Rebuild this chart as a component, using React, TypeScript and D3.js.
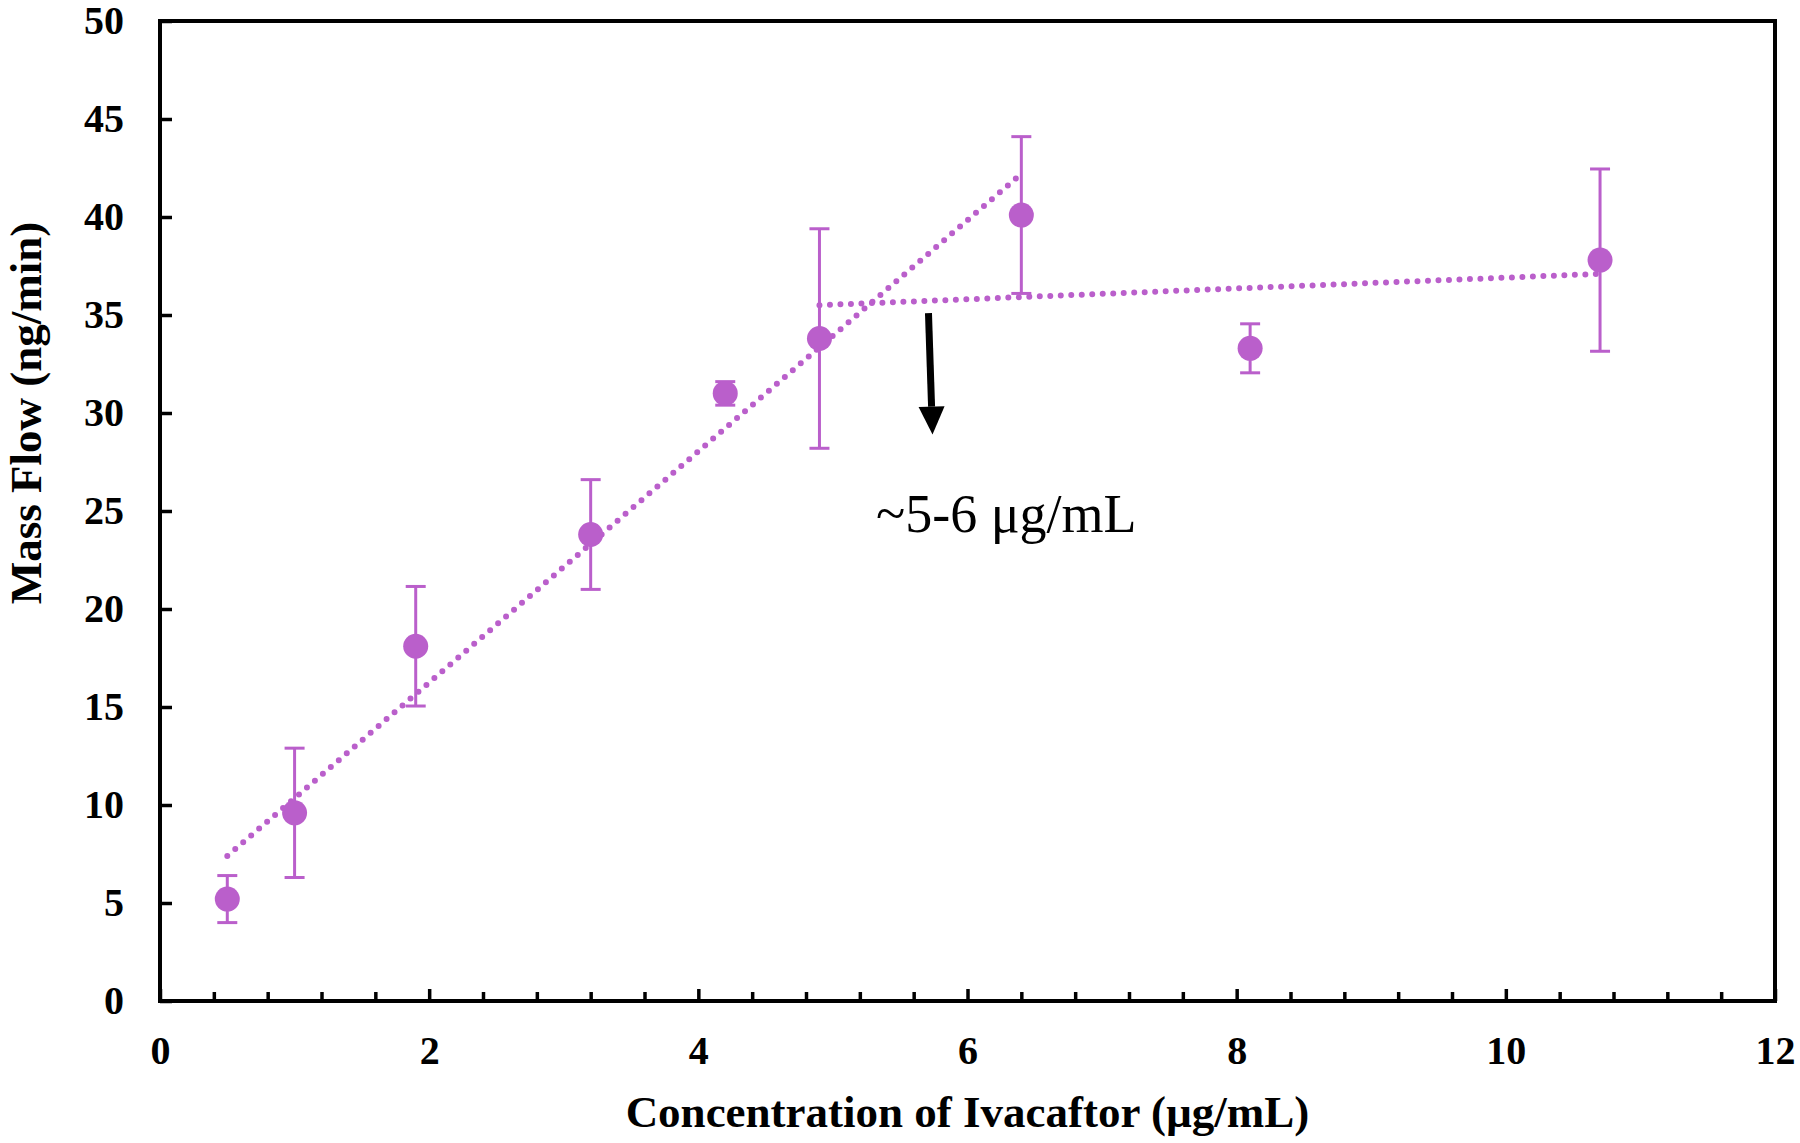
import React, { useEffect, useRef } from 'react';
import * as d3 from 'd3';

// Values
const concentration = [0.5, 1.0, 1.9, 3.2, 4.2, 4.9, 6.4, 8.1, 10.7];
const massFlow = [5.2, 9.6, 18.1, 23.8, 31.0, 33.8, 40.1, 33.3, 37.8];
const errors = [1.2, 3.3, 3.05, 2.8, 0.6, 5.6, 4.0, 1.25, 4.65];

// trend line end points (x, y)
const trendRising = [[0.5, 7.4], [6.4, 42.2]];
const trendFlat = [[4.9, 35.5], [10.7, 37.1]];

const xTicks = [0, 2, 4, 6, 8, 10, 12];
const yTicks = [0, 5, 10, 15, 20, 25, 30, 35, 40, 45, 50];

const annotation = { x: 5.32, y: 24.9, text: '~5-6 μg/mL' };
const arrow = { x1: 5.71, y1: 35.1, x2: 5.74, y2: 28.9 };

const PURPLE = '#BA5FCB';
const FONT = '"Liberation Serif", "Times New Roman", serif';

function App() {
  const ref = useRef<SVGSVGElement>(null);

  useEffect(() => {
    const svg = d3.select(ref.current);
    svg.selectAll('*').remove();

    const width = 1800;
    const height = 1143;
    const margin = { top: 21, right: 25, bottom: 142, left: 160 };

    const x = d3.scaleLinear().domain([0, 12]).range([margin.left, width - margin.right]);
    const y = d3.scaleLinear().domain([0, 50]).range([height - margin.bottom, margin.top]);

    // minor x ticks every 0.4
    const minorX = d3.range(1, 30).filter((i) => i % 5 !== 0).map((i) => i * 0.4);

    const gx = svg
      .append('g')
      .attr('transform', `translate(0,${y(0)})`)
      .call(d3.axisBottom(x).tickValues(xTicks).tickSizeInner(-12).tickSizeOuter(0).tickPadding(35));
    gx.select('.domain').remove();
    gx.selectAll('.tick line').attr('stroke', '#000').attr('stroke-width', 3.5);
    gx.selectAll('text')
      .attr('font-family', FONT)
      .attr('font-weight', 'bold')
      .attr('font-size', 40)
      .attr('fill', '#000');

    const gxm = svg
      .append('g')
      .attr('transform', `translate(0,${y(0)})`)
      .call(d3.axisBottom(x).tickValues(minorX).tickSizeInner(-9).tickSizeOuter(0).tickFormat(() => ''));
    gxm.select('.domain').remove();
    gxm.selectAll('.tick line').attr('stroke', '#000').attr('stroke-width', 3.5);

    const gy = svg
      .append('g')
      .attr('transform', `translate(${x(0)},0)`)
      .call(d3.axisLeft(y).tickValues(yTicks).tickSizeInner(-12).tickSizeOuter(0).tickPadding(36));
    gy.select('.domain').remove();
    gy.selectAll('.tick line').attr('stroke', '#000').attr('stroke-width', 3.5);
    gy.selectAll('text')
      .attr('font-family', FONT)
      .attr('font-weight', 'bold')
      .attr('font-size', 40)
      .attr('fill', '#000');

    // plot frame
    svg
      .append('rect')
      .attr('x', x(0))
      .attr('y', y(50))
      .attr('width', x(12) - x(0))
      .attr('height', y(0) - y(50))
      .attr('fill', 'none')
      .attr('stroke', '#000')
      .attr('stroke-width', 4);

    // dotted trend lines
    const line = d3
      .line<number[]>()
      .x((d) => x(d[0]))
      .y((d) => y(d[1]));
    [trendRising, trendFlat].forEach((t) => {
      svg
        .append('path')
        .attr('d', line(t))
        .attr('fill', 'none')
        .attr('stroke', PURPLE)
        .attr('stroke-width', 6)
        .attr('stroke-linecap', 'round')
        .attr('stroke-dasharray', '0 10.5');
    });

    const pts = concentration.map((c, i) => ({ c, m: massFlow[i], e: errors[i] }));

    // error bars
    const eb = svg.append('g').attr('stroke', PURPLE).attr('stroke-width', 3);
    eb.selectAll('line.v')
      .data(pts)
      .join('line')
      .attr('class', 'v')
      .attr('x1', (d) => x(d.c))
      .attr('x2', (d) => x(d.c))
      .attr('y1', (d) => y(d.m - d.e))
      .attr('y2', (d) => y(d.m + d.e));
    ['lo', 'hi'].forEach((k) => {
      eb.selectAll(`line.${k}`)
        .data(pts)
        .join('line')
        .attr('class', k)
        .attr('x1', (d) => x(d.c) - 10)
        .attr('x2', (d) => x(d.c) + 10)
        .attr('y1', (d) => y(k === 'lo' ? d.m - d.e : d.m + d.e))
        .attr('y2', (d) => y(k === 'lo' ? d.m - d.e : d.m + d.e));
    });

    // markers
    svg
      .append('g')
      .selectAll('circle')
      .data(pts)
      .join('circle')
      .attr('cx', (d) => x(d.c))
      .attr('cy', (d) => y(d.m))
      .attr('r', 12.5)
      .attr('fill', PURPLE);

    // arrow annotation
    const ax1 = x(arrow.x1);
    const ay1 = y(arrow.y1);
    const ax2 = x(arrow.x2);
    const ay2 = y(arrow.y2);
    const ang = Math.atan2(ay2 - ay1, ax2 - ax1);
    const headLen = 28;
    const headHalf = 13;
    const bx = ax2 - headLen * Math.cos(ang);
    const by = ay2 - headLen * Math.sin(ang);
    svg
      .append('line')
      .attr('x1', ax1)
      .attr('y1', ay1)
      .attr('x2', bx)
      .attr('y2', by)
      .attr('stroke', '#000')
      .attr('stroke-width', 7);
    svg
      .append('path')
      .attr(
        'd',
        `M${ax2},${ay2}L${bx + headHalf * Math.sin(ang)},${by - headHalf * Math.cos(ang)}L${bx - headHalf * Math.sin(ang)},${by + headHalf * Math.cos(ang)}Z`
      )
      .attr('fill', '#000');

    svg
      .append('text')
      .attr('x', x(annotation.x))
      .attr('y', y(annotation.y))
      .attr('dy', '0.35em')
      .attr('font-family', FONT)
      .attr('font-size', 54)
      .attr('fill', '#000')
      .text(annotation.text);

    // axis titles
    svg
      .append('text')
      .attr('x', (x(0) + x(12)) / 2)
      .attr('y', 1111)
      .attr('dy', '0.35em')
      .attr('text-anchor', 'middle')
      .attr('font-family', FONT)
      .attr('font-weight', 'bold')
      .attr('font-size', 45)
      .attr('fill', '#000')
      .text('Concentration of Ivacaftor (µg/mL)');

    svg
      .append('text')
      .attr('transform', 'translate(25,413) rotate(-90)')
      .attr('dy', '0.35em')
      .attr('text-anchor', 'middle')
      .attr('font-family', FONT)
      .attr('font-weight', 'bold')
      .attr('font-size', 45)
      .attr('fill', '#000')
      .text('Mass Flow (ng/min)');
  }, []);

  return (
    <>
      <style>{'body{margin:0}'}</style>
      <svg ref={ref} width={1800} height={1143} style={{ display: 'block', background: '#fff' }}></svg>
    </>
  );
}

export default App;
